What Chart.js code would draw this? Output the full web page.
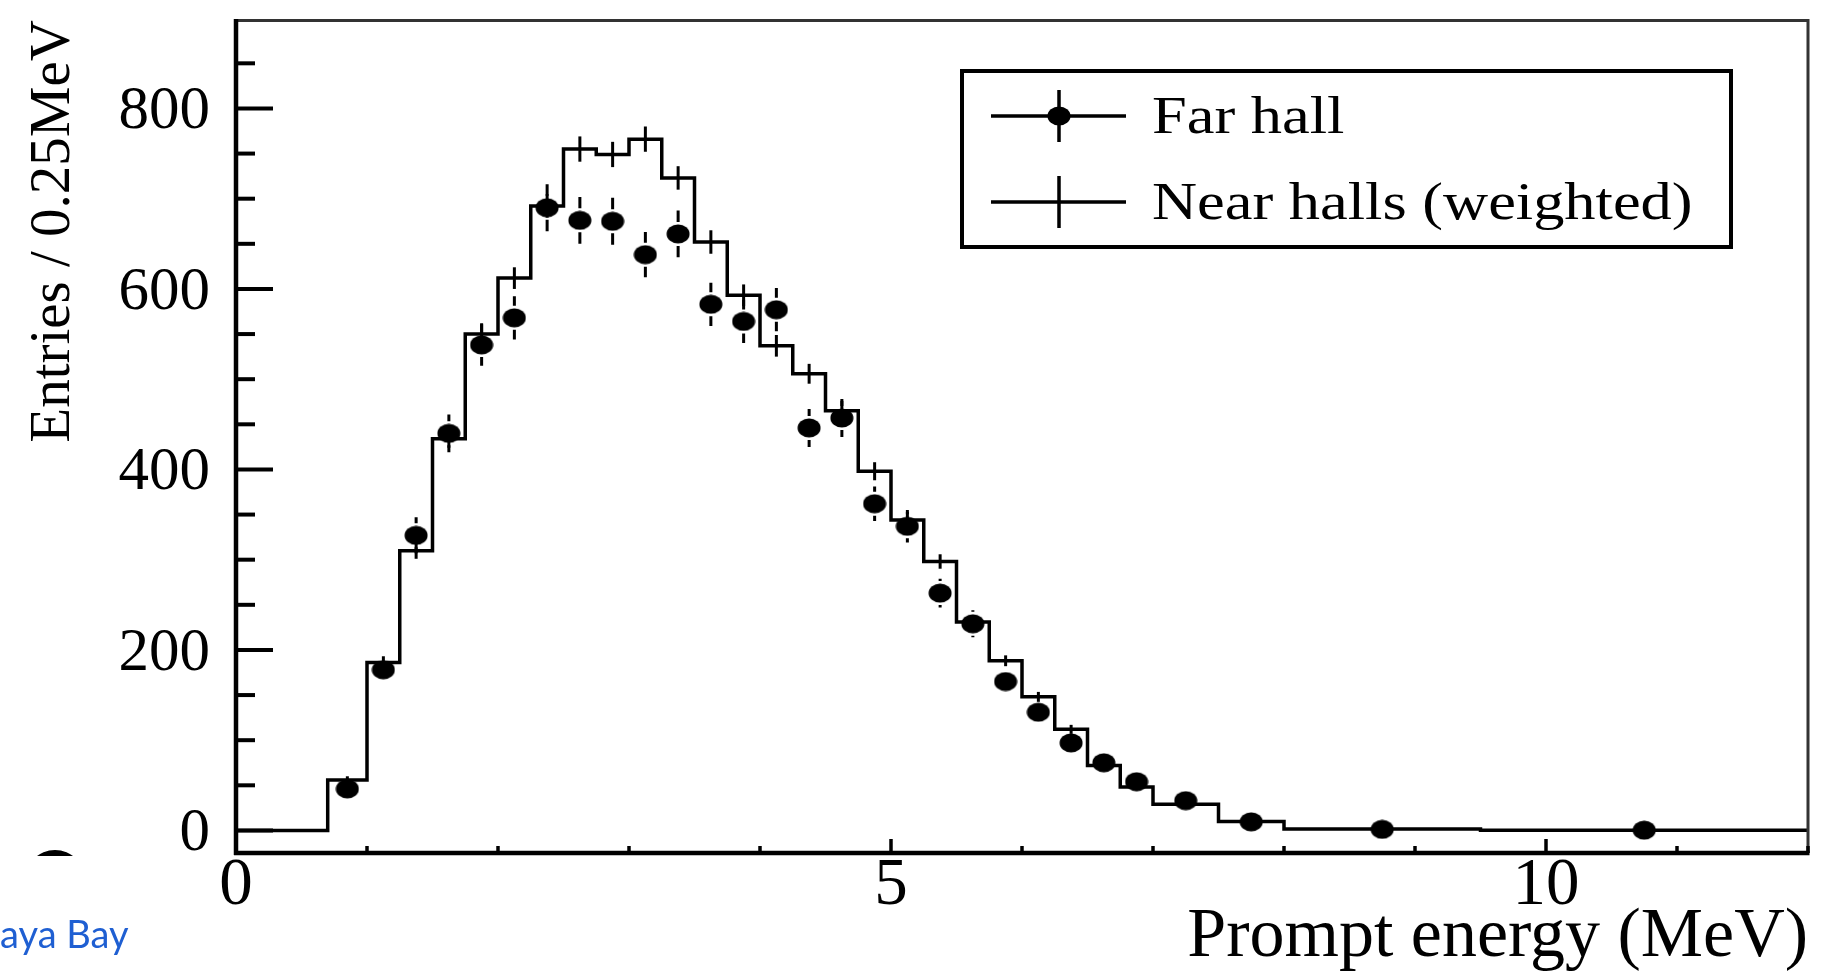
<!DOCTYPE html>
<html lang="en">
<head>
  <meta charset="UTF-8">
  <title>Prompt energy spectrum</title>
  <style>
    html, body { margin: 0; padding: 0; background: #fff; overflow: hidden; }
    canvas { display: block; }
  </style>
</head>
<body>
  <canvas id="spectrum" width="1830" height="973"></canvas>

  <script src="https://cdn.jsdelivr.net/npm/chart.js"></script>
  <script>
    // bin edges (MeV), 0.25 MeV bins except the first and the tail
    const binEdges = [0, 0.7, 1.0, 1.25, 1.5, 1.75, 2.0, 2.25, 2.5, 2.75, 3.0, 3.25, 3.5, 3.75,
      4.0, 4.25, 4.5, 4.75, 5.0, 5.25, 5.5, 5.75, 6.0, 6.25, 6.5, 6.75, 7.0, 7.5, 8.0, 9.5, 12];

    // near halls (weighted), one value per bin, entries / 0.25 MeV
    const nearHalls = [0, 56, 186, 310, 434, 550, 612, 692, 755, 749, 766, 723, 652, 593,
      537, 506, 465, 398, 344, 298, 231, 188, 148, 112, 72, 48, 29, 10, 1.5, 0.2];
    const nearErr = [0, 4, 7, 9, 10, 12, 12, 13, 14, 14, 14, 13, 13, 12,
      12, 11, 11, 10, 9, 8, 7, 6, 5.5, 5, 4, 3.5, 2, 1, 0.3, 0.1];

    // far hall, one value per bin starting at 0.7 MeV
    const farHall = [46, 178, 327, 440, 538, 568, 690, 676, 675, 638, 661, 583, 564,
      577, 446, 457, 362, 337, 263, 229, 165, 131, 97, 75, 54, 33, 9.5, 1.2, 0.3];
    const farErr = [7, 13, 20, 21, 23, 24, 26, 26, 26, 25, 26, 24, 24,
      24, 21, 21, 19, 18, 16, 15, 13, 11, 10, 9, 7, 4, 2, 0.5, 0.3];

    const xTicks = [0, 5, 10];
    const yTicks = [0, 200, 400, 600, 800];

    const serif = "'Liberation Serif', 'Times New Roman', serif";

    // elliptical marker, like the stretched ROOT dots
    const dot = document.createElement('canvas');
    dot.width = 24; dot.height = 20;
    const dctx = dot.getContext('2d');
    dctx.fillStyle = '#000';
    dctx.beginPath();
    dctx.ellipse(12, 10, 11.5, 9.5, 0, 0, 2 * Math.PI);
    dctx.fill();

    const histPoints = nearHalls.map((v, i) => ({ x: binEdges[i], y: v }));
    histPoints.push({ x: binEdges[binEdges.length - 1], y: nearHalls[nearHalls.length - 1] });

    const farPoints = farHall.map((v, i) => ({ x: (binEdges[i + 1] + binEdges[i + 2]) / 2, y: v }));

    const noPad = (s) => { s.paddingTop = 0; s.paddingBottom = 0; s.paddingLeft = 0; s.paddingRight = 0; };

    const rootStyle = {
      id: 'rootStyle',
      afterDatasetDraw(chart, args) {
        const ctx = chart.ctx;
        const xs = chart.scales.x, ys = chart.scales.y;
        if (args.index === 1) {
          // near halls error crosses
          ctx.save();
          ctx.strokeStyle = '#000';
          ctx.lineWidth = 3;
          nearHalls.forEach((v, i) => {
            if (!nearErr[i]) return;
            const cx = xs.getPixelForValue((binEdges[i] + binEdges[i + 1]) / 2);
            ctx.beginPath();
            ctx.moveTo(cx, ys.getPixelForValue(v + nearErr[i]));
            ctx.lineTo(cx, ys.getPixelForValue(v - nearErr[i]));
            ctx.stroke();
          });
          // far hall error bars (kept clear of the marker)
          farHall.forEach((v, i) => {
            const cx = xs.getPixelForValue(farPoints[i].x);
            const cy = ys.getPixelForValue(v);
            const len = cy - ys.getPixelForValue(v + farErr[i]);
            const gap = 12;
            if (len <= gap + 1) return;
            ctx.beginPath();
            ctx.moveTo(cx, cy - gap); ctx.lineTo(cx, cy - len);
            ctx.moveTo(cx, cy + gap); ctx.lineTo(cx, cy + len);
            ctx.stroke();
          });
          ctx.restore();
        }
      },
      afterDraw(chart) {
        const ctx = chart.ctx;
        const ca = chart.chartArea;
        const xs = chart.scales.x, ys = chart.scales.y;
        ctx.save();

        // frame
        ctx.strokeStyle = '#333';
        ctx.lineWidth = 3;
        ctx.beginPath();
        ctx.moveTo(ca.left, ca.top + 0.5); ctx.lineTo(ca.right, ca.top + 0.5);
        ctx.lineTo(ca.right, ca.bottom);
        ctx.stroke();
        ctx.strokeStyle = '#000';
        ctx.lineWidth = 4.5;
        ctx.beginPath();
        ctx.moveTo(ca.left, ca.top - 1); ctx.lineTo(ca.left, ca.bottom + 2);
        ctx.moveTo(ca.left - 2, ca.bottom); ctx.lineTo(ca.right + 1.5, ca.bottom);
        ctx.stroke();

        // inward ticks
        ctx.lineWidth = 4;
        for (let v = 0; v < ys.max; v += 50) {
          const py = ys.getPixelForValue(v);
          const len = yTicks.includes(v) ? 37 : 19;
          ctx.beginPath(); ctx.moveTo(ca.left, py); ctx.lineTo(ca.left + len, py); ctx.stroke();
        }
        ctx.lineWidth = 3.5;
        for (let v = 1; v <= xs.max; v += 1) {
          const px = xs.getPixelForValue(v);
          const len = xTicks.includes(v) ? 14 : 7;
          ctx.beginPath(); ctx.moveTo(px, ca.bottom); ctx.lineTo(px, ca.bottom - len); ctx.stroke();
        }

        // legend box
        const ds = chart.data.datasets;
        ctx.lineWidth = 4;
        ctx.strokeRect(962, 71, 769, 176);
        const rows = [116, 202];
        ctx.lineWidth = 3.5;
        rows.forEach((ry, i) => {
          ctx.beginPath();
          ctx.moveTo(991, ry); ctx.lineTo(1126, ry);
          ctx.moveTo(1059, ry - 26); ctx.lineTo(1059, ry + 26);
          ctx.stroke();
          if (i === 0) ctx.drawImage(dot, 1059 - 12, ry - 10);
          ctx.save();
          ctx.translate(1152, ry + 17);
          ctx.scale(1.2, 1);
          ctx.fillStyle = '#000';
          ctx.font = '52px ' + serif;
          ctx.textBaseline = 'alphabetic';
          ctx.fillText(ds[i].label, 0, 0);
          ctx.restore();
        });

        // slide remnants in the corner
        ctx.save();
        ctx.beginPath(); ctx.rect(0, 840, 120, 16); ctx.clip();
        ctx.fillStyle = '#000';
        ctx.beginPath(); ctx.ellipse(55, 880, 30, 30, 0, 0, 2 * Math.PI); ctx.fill();
        ctx.restore();
        ctx.fillStyle = '#1f5fd2';
        ctx.font = '38px Lato';
        ctx.textBaseline = 'alphabetic';
        ctx.fillText('aya Bay', 0, 948);

        ctx.restore();
      }
    };

    const ctx = document.getElementById('spectrum').getContext('2d');
    const chart = new Chart(ctx, {
      type: 'line',
      data: {
        datasets: [{
          label: 'Far hall',
          data: farPoints,
          showLine: false,
          pointStyle: dot,
          pointRadius: 10,
          pointBackgroundColor: '#000',
          pointBorderWidth: 0
        }, {
          label: 'Near halls (weighted)',
          data: histPoints,
          stepped: 'before',
          borderColor: '#000',
          borderWidth: 3.5,
          pointRadius: 0,
          fill: false
        }]
      },
      options: {
        responsive: false,
        animation: false,
        devicePixelRatio: 1,
        layout: { padding: { top: 20, right: 22, left: 0, bottom: 0 } },
        scales: {
          x: {
            type: 'linear',
            min: 0,
            max: 12,
            grid: { display: false, drawTicks: false },
            border: { display: false },
            afterBuildTicks: (s) => { s.ticks = xTicks.map(v => ({ value: v })); },
            afterFit: (s) => { s.height = 120; noPad(s); },
            ticks: {
              color: '#000',
              maxRotation: 0,
              autoSkip: false,
              padding: 0,
              font: { family: serif, size: 67, lineHeight: 1 }
            },
            title: {
              display: true,
              text: 'Prompt energy (MeV)',
              align: 'end',
              color: '#000',
              padding: { top: 0, bottom: 0 },
              font: { family: serif, size: 70, lineHeight: 1 }
            }
          },
          y: {
            min: -25,
            max: 898,
            grid: { display: false, drawTicks: false },
            border: { display: false },
            afterBuildTicks: (s) => { s.ticks = yTicks.map(v => ({ value: v })); },
            afterFit: (s) => { s.width = 236; noPad(s); },
            ticks: {
              color: '#000',
              padding: 26,
              labelOffset: 4,
              font: { family: serif, size: 61, lineHeight: 1 }
            },
            title: {
              display: true,
              text: 'Entries / 0.25MeV',
              align: 'end',
              color: '#000',
              padding: { top: 26, bottom: 0 },
              font: { family: serif, size: 57, lineHeight: 1 }
            }
          }
        },
        plugins: {
          legend: { display: false },
          tooltip: { enabled: false }
        }
      },
      plugins: [rootStyle]
    });
  </script>
</body>
</html>
